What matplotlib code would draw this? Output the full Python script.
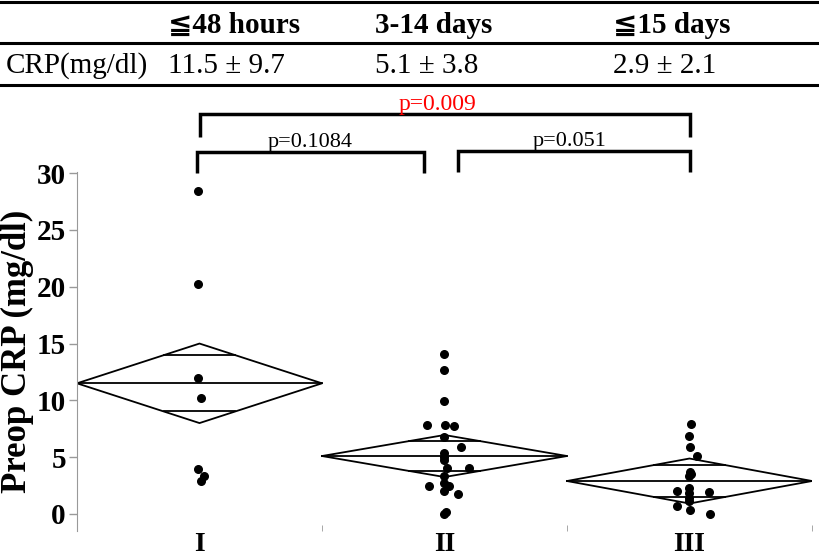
import numpy as np
import matplotlib
matplotlib.use("Agg")
import matplotlib.pyplot as plt
from matplotlib.lines import Line2D

plt.rcParams['font.family'] = ['Liberation Serif', 'DejaVu Serif', 'DejaVu Sans', 'Noto Sans CJK JP']

# -------- Data --------
groups = ['I', 'II', 'III']
periods = ['≦48 hours', '3-14 days', '≦15 days']
crp_text = ['11.5 ± 9.7', '5.1 ± 3.8', '2.9 ± 2.1']
means = [11.5, 5.1, 2.9]
ci_half = [3.5, 1.85, 1.98]

crp_I = [28.4, 20.2, 12.0, 10.2, 4.0, 3.3, 2.9]
jit_I = [-0.006, -0.006, -0.006, 0.006, -0.006, 0.018, 0.008]

crp_II = [14.1, 12.7, 9.9, 7.8, 7.8, 7.75, 6.8, 5.9, 5.4, 5.0, 4.75, 4.05, 4.05,
          3.35, 2.5, 2.7, 2.45, 2.0, 1.75, 0.0, 0.2]
jit_II = [-0.004, -0.004, -0.004, -0.073, 0.0, 0.037, -0.004, 0.069, -0.004, -0.004,
          -0.004, 0.012, 0.098, -0.004, -0.065, -0.004, 0.02, -0.004, 0.057, -0.004, 0.008]

crp_III = [7.9, 6.9, 5.9, 5.1, 3.7, 3.5, 3.3, 2.3, 2.0, 1.9, 1.85, 1.4, 1.15, 0.7, 0.35, 0.0]
jit_III = [0.008, -0.004, 0.0, 0.029, 0.0, 0.008, -0.004, -0.004, -0.053, 0.078,
           -0.004, -0.004, -0.004, -0.049, 0.0, 0.082]

p_values = ['p=0.1084', 'p=0.051', 'p=0.009']

# -------- Figure --------
fig = plt.figure(figsize=(8.19, 5.56), dpi=100)
W, H = 819, 556

# table on top
for y in [1.5, 43, 85]:
    fig.add_artist(Line2D([0, 1], [1 - y / H, 1 - y / H], color='black', lw=2.2,
                          transform=fig.transFigure))
col_x = [168, 375, 613]
for cx, lab, val in zip(col_x, periods, crp_text):
    fig.text(cx / W, 1 - 33 / H, lab, fontsize=21, fontweight='bold', va='baseline')
    fig.text(cx / W, 1 - 73 / H, val, fontsize=21, va='baseline')
fig.text(6 / W, 1 - 73 / H, 'CRP(mg/dl)', fontsize=21, va='baseline')

ax = fig.add_axes([77 / W, 25 / H, 735 / W, 359 / H])
ax.set_xlim(0, 3)
ax.set_ylim(-1.5, 30.1)

# means diamonds
k = 1 / np.sqrt(2)
for i, (m, c) in enumerate(zip(means, ci_half)):
    cx = i + 0.5
    ax.plot([i, cx, i + 1, cx, i], [m, m + c, m, m - c, m], color='black', lw=1.3)
    ax.plot([i, i + 1], [m, m], color='black', lw=1.3)
    hw = 0.5 * (1 - k)
    for s in (1, -1):
        ax.plot([cx - hw, cx + hw], [m + s * c * k, m + s * c * k], color='black', lw=1.3)

# points
for i, (vals, jit) in enumerate([(crp_I, jit_I), (crp_II, jit_II), (crp_III, jit_III)]):
    ax.scatter(np.array(jit) + i + 0.5, vals, s=30, color='black', zorder=3, clip_on=False)

ax.spines['top'].set_visible(False)
ax.spines['right'].set_visible(False)
ax.spines['bottom'].set_visible(False)
ax.spines['left'].set_color('#999999')
ax.set_yticks([0, 5, 10, 15, 20, 25, 30])
ax.tick_params(axis='y', colors='#999999', length=6, width=1, labelsize=21, labelcolor='black', pad=2)
for t in ax.get_yticklabels():
    t.set_fontweight('bold')
ax.set_xticks([0.5, 1.5, 2.5])
ax.set_xticklabels(groups, fontsize=20, fontweight='bold')
ax.tick_params(axis='x', which='major', length=0, pad=1)
ax.set_xticks([1, 2, 3], minor=True)
ax.tick_params(axis='x', which='minor', direction='in', length=4, color='#999999')
ax.set_ylabel('Preop CRP (mg/dl)', fontsize=25, fontweight='bold', va='center')
ax.yaxis.set_label_coords(-60 / 735, 0.5)

# significance brackets
def bracket(x0, x1, ytop, ybot, lw=2.5):
    ax.plot([x0, x0, x1, x1], [ybot, ytop, ytop, ybot], color='black', lw=lw,
            clip_on=False, solid_joinstyle='miter', solid_capstyle='butt')

bracket(0.49, 1.415, 31.9, 30.05)
bracket(1.555, 2.50, 31.95, 30.1)
bracket(0.502, 2.502, 35.2, 33.2)
ax.text(0.95, 32.3, p_values[0], fontsize=16, ha='center', va='baseline', clip_on=False)
ax.text(2.012, 32.4, p_values[1], fontsize=16, ha='center', va='baseline', clip_on=False)
ax.text(1.47, 35.6, p_values[2], fontsize=17, color='red', ha='center', va='baseline', clip_on=False)

plt.savefig("out.png", dpi=100)
